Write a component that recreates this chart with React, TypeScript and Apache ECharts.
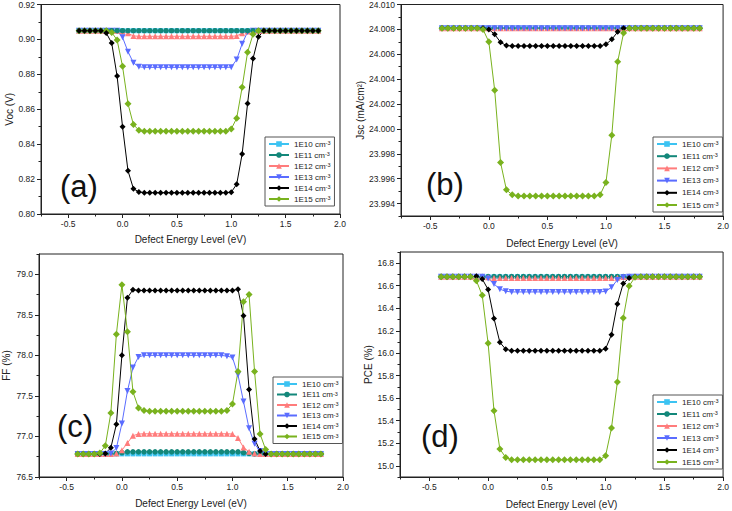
import React, { useEffect, useRef } from "react";
import * as echarts from "echarts";

// Defect energy level (eV)
const X = [-0.4, -0.35, -0.3, -0.25, -0.2, -0.15, -0.1, -0.05, 0.0, 0.05, 0.1, 0.15, 0.2, 0.25, 0.3, 0.35, 0.4, 0.45, 0.5, 0.55, 0.6, 0.65, 0.7, 0.75, 0.8, 0.85, 0.9, 0.95, 1.0, 1.05, 1.1, 1.15, 1.2, 1.25, 1.3, 1.35, 1.4, 1.45, 1.5, 1.55, 1.6, 1.65, 1.7, 1.75, 1.8];

const NAMES = ["1E10 cm-3", "1E11 cm-3", "1E12 cm-3", "1E13 cm-3", "1E14 cm-3", "1E15 cm-3"];

// (a) Voc (V)
const voc10 = [0.905,0.905,0.905,0.905,0.905, 0.905,0.905,0.905,0.905,0.905, 0.905,0.905,0.905,0.905,0.905, 0.905,0.905,0.905,0.905,0.905, 0.905,0.905,0.905,0.905,0.905, 0.905,0.905,0.905,0.905,0.905, 0.905,0.905,0.905,0.905,0.905, 0.905,0.905,0.905,0.905,0.905, 0.905,0.905,0.905,0.905,0.905];
const voc11 = [0.905,0.905,0.905,0.905,0.905, 0.905,0.905,0.905,0.905,0.905, 0.905,0.905,0.905,0.905,0.905, 0.905,0.905,0.905,0.905,0.905, 0.905,0.905,0.905,0.905,0.905, 0.905,0.905,0.905,0.905,0.905, 0.905,0.905,0.905,0.905,0.905, 0.905,0.905,0.905,0.905,0.905, 0.905,0.905,0.905,0.905,0.905];
const voc12 = [0.905,0.905,0.905,0.905,0.905, 0.905,0.905,0.905,0.9045,0.9035, 0.902,0.9018,0.9018,0.9018,0.9018, 0.9018,0.9018,0.9018,0.9018,0.9018, 0.9018,0.9018,0.9018,0.9018,0.9018, 0.9018,0.9018,0.9018,0.9018,0.902, 0.9035,0.9045,0.905,0.905,0.905, 0.905,0.905,0.905,0.905,0.905, 0.905,0.905,0.905,0.905,0.905];
const voc13 = [0.905,0.905,0.905,0.905,0.905, 0.905,0.905,0.905,0.9012,0.893, 0.8866,0.8843,0.884,0.884,0.884, 0.884,0.884,0.884,0.884,0.884, 0.884,0.884,0.884,0.884,0.884, 0.884,0.884,0.884,0.8841,0.8885, 0.8975,0.9043,0.905,0.905,0.905, 0.905,0.905,0.905,0.905,0.905, 0.905,0.905,0.905,0.905,0.905];
const voc14 = [0.905,0.905,0.905,0.905,0.905, 0.9037,0.898,0.879,0.85,0.8248, 0.8145,0.8126,0.8122,0.8122,0.8122, 0.8122,0.8122,0.8122,0.8122,0.8122, 0.8122,0.8122,0.8122,0.8122,0.8122, 0.8122,0.8122,0.8122,0.8125,0.8171, 0.8344,0.8633,0.889,0.9015,0.905, 0.905,0.905,0.905,0.905,0.905, 0.905,0.905,0.905,0.905,0.905];
const voc15 = [0.905,0.905,0.905,0.905,0.905, 0.905,0.904,0.8997,0.8846,0.8632, 0.8512,0.848,0.8474,0.8474,0.8474, 0.8474,0.8474,0.8474,0.8474,0.8474, 0.8474,0.8474,0.8474,0.8474,0.8474, 0.8474,0.8474,0.8474,0.8487,0.8549, 0.8726,0.8927,0.9029,0.905,0.905, 0.905,0.905,0.905,0.905,0.905, 0.905,0.905,0.905,0.905,0.905];

// (b) Jsc (mA/cm2)
const jsc10 = [24.0081,24.0081,24.0081,24.0081,24.0081, 24.0081,24.0081,24.0081,24.0081,24.0081, 24.0081,24.0081,24.0081,24.0081,24.0081, 24.0081,24.0081,24.0081,24.0081,24.0081, 24.0081,24.0081,24.0081,24.0081,24.0081, 24.0081,24.0081,24.0081,24.0081,24.0081, 24.0081,24.0081,24.0081,24.0081,24.0081, 24.0081,24.0081,24.0081,24.0081,24.0081, 24.0081,24.0081,24.0081,24.0081,24.0081];
const jsc11 = [24.0081,24.0081,24.0081,24.0081,24.0081, 24.0081,24.0081,24.0081,24.0081,24.0081, 24.0081,24.0081,24.0081,24.0081,24.0081, 24.0081,24.0081,24.0081,24.0081,24.0081, 24.0081,24.0081,24.0081,24.0081,24.0081, 24.0081,24.0081,24.0081,24.0081,24.0081, 24.0081,24.0081,24.0081,24.0081,24.0081, 24.0081,24.0081,24.0081,24.0081,24.0081, 24.0081,24.0081,24.0081,24.0081,24.0081];
const jsc12 = [24.0081,24.0081,24.0081,24.0081,24.0081, 24.0081,24.0081,24.0081,24.0081,24.0081, 24.0081,24.0081,24.0081,24.0081,24.0081, 24.0081,24.0081,24.0081,24.0081,24.0081, 24.0081,24.0081,24.0081,24.0081,24.0081, 24.0081,24.0081,24.0081,24.0081,24.0081, 24.0081,24.0081,24.0081,24.0081,24.0081, 24.0081,24.0081,24.0081,24.0081,24.0081, 24.0081,24.0081,24.0081,24.0081,24.0081];
const jsc13 = [24.0081,24.0081,24.0081,24.0081,24.0081, 24.0081,24.0081,24.0081,24.0081,24.0081, 24.0081,24.0081,24.0081,24.0081,24.0081, 24.0081,24.0081,24.0081,24.0081,24.0081, 24.0081,24.0081,24.0081,24.0081,24.0081, 24.0081,24.0081,24.0081,24.0081,24.0081, 24.0081,24.0081,24.0081,24.0081,24.0081, 24.0081,24.0081,24.0081,24.0081,24.0081, 24.0081,24.0081,24.0081,24.0081,24.0081];
const jsc14 = [24.0081,24.0081,24.0081,24.0081,24.0081, 24.0081,24.0081,24.0081,24.008,24.0076, 24.00696,24.0067,24.00667,24.00667,24.00667, 24.00667,24.00667,24.00667,24.00667,24.00667, 24.00667,24.00667,24.00667,24.00667,24.00667, 24.00667,24.00667,24.00667,24.0068,24.0072, 24.0078,24.0081,24.0081,24.0081,24.0081, 24.0081,24.0081,24.0081,24.0081,24.0081, 24.0081,24.0081,24.0081,24.0081,24.0081];
const jsc15 = [24.0081,24.0081,24.0081,24.0081,24.0081, 24.0081,24.0081,24.008,24.007,24.0031, 23.9973,23.9951,23.9947,23.9946,23.9946, 23.9946,23.9946,23.9946,23.9946,23.9946, 23.9946,23.9946,23.9946,23.9946,23.9946, 23.9946,23.9946,23.9947,23.9957,23.9995, 24.0054,24.0077,24.0081,24.0081,24.0081, 24.0081,24.0081,24.0081,24.0081,24.0081, 24.0081,24.0081,24.0081,24.0081,24.0081];

// (c) FF (%)
const ff10 = [76.785,76.785,76.785,76.785,76.785, 76.785,76.785,76.785,76.785,76.785, 76.785,76.785,76.785,76.785,76.785, 76.785,76.785,76.785,76.785,76.785, 76.785,76.785,76.785,76.785,76.785, 76.785,76.785,76.785,76.785,76.785, 76.785,76.785,76.785,76.785,76.785, 76.785,76.785,76.785,76.785,76.785, 76.785,76.785,76.785,76.785,76.785];
const ff11 = [76.785,76.785,76.785,76.785,76.785, 76.785,76.785,76.79,76.8,76.81, 76.81,76.81,76.81,76.81,76.81, 76.81,76.81,76.81,76.81,76.81, 76.81,76.81,76.81,76.81,76.81, 76.81,76.81,76.81,76.81,76.81, 76.8,76.79,76.785,76.785,76.785, 76.785,76.785,76.785,76.785,76.785, 76.785,76.785,76.785,76.785,76.785];
const ff12 = [76.785,76.785,76.785,76.785,76.785, 76.785,76.785,76.79,76.83,76.92, 77.01,77.03,77.033,77.033,77.033, 77.033,77.033,77.033,77.033,77.033, 77.033,77.033,77.033,77.033,77.033, 77.033,77.033,77.033,77.03,76.98, 76.865,76.81,76.79,76.785,76.785, 76.785,76.785,76.785,76.785,76.785, 76.785,76.785,76.785,76.785,76.785];
const ff13 = [76.785,76.785,76.785,76.785,76.785, 76.785,76.79,76.857,77.16,77.56, 77.85,77.98,78.0,78.0,78.0, 78.0,78.0,78.0,78.0,78.0, 78.0,78.0,78.0,78.0,78.0, 78.0,78.0,77.99,77.975,77.76, 77.43,77.1,76.91,76.82,76.785, 76.785,76.785,76.785,76.785,76.785, 76.785,76.785,76.785,76.785,76.785];
const ff14 = [76.785,76.785,76.785,76.785,76.785, 76.79,76.86,77.15,78.0,78.71, 78.81,78.8,78.8,78.8,78.8, 78.8,78.8,78.8,78.8,78.8, 78.8,78.8,78.8,78.8,78.8, 78.8,78.8,78.8,78.8,78.815, 78.49,77.58,76.97,76.82,76.785, 76.785,76.785,76.785,76.785,76.785, 76.785,76.785,76.785,76.785,76.785];
const ff15 = [76.785,76.785,76.785,76.785,76.795, 76.885,77.29,78.26,78.87,78.29, 77.55,77.35,77.32,77.31,77.31, 77.31,77.31,77.31,77.31,77.31, 77.31,77.31,77.31,77.31,77.31, 77.31,77.31,77.32,77.4,77.8, 78.66,78.75,77.8,77.03,76.84, 76.785,76.785,76.785,76.785,76.785, 76.785,76.785,76.785,76.785,76.785];

// (d) PCE (%)
const pce10 = [16.68,16.68,16.68,16.68,16.68, 16.68,16.68,16.68,16.68,16.68, 16.68,16.68,16.68,16.68,16.68, 16.68,16.68,16.68,16.68,16.68, 16.68,16.68,16.68,16.68,16.68, 16.68,16.68,16.68,16.68,16.68, 16.68,16.68,16.68,16.68,16.68, 16.68,16.68,16.68,16.68,16.68, 16.68,16.68,16.68,16.68,16.68];
const pce11 = [16.682,16.682,16.682,16.682,16.682, 16.682,16.682,16.682,16.682,16.682, 16.682,16.682,16.682,16.682,16.682, 16.682,16.682,16.682,16.682,16.682, 16.682,16.682,16.682,16.682,16.682, 16.682,16.682,16.682,16.682,16.682, 16.682,16.682,16.682,16.682,16.682, 16.682,16.682,16.682,16.682,16.682, 16.682,16.682,16.682,16.682,16.682];
const pce12 = [16.68,16.68,16.68,16.68,16.68, 16.68,16.68,16.68,16.675,16.668, 16.668,16.668,16.668,16.668,16.668, 16.668,16.668,16.668,16.668,16.668, 16.668,16.668,16.668,16.668,16.668, 16.668,16.668,16.668,16.668,16.668, 16.672,16.678,16.68,16.68,16.68, 16.68,16.68,16.68,16.68,16.68, 16.68,16.68,16.68,16.68,16.68];
const pce13 = [16.68,16.68,16.68,16.68,16.68, 16.68,16.68,16.68,16.664,16.616, 16.57,16.551,16.545,16.545,16.545, 16.545,16.545,16.545,16.545,16.545, 16.545,16.545,16.545,16.545,16.545, 16.545,16.545,16.545,16.55,16.586, 16.652,16.675,16.68,16.68,16.68, 16.68,16.68,16.68,16.68,16.68, 16.68,16.68,16.68,16.68,16.68];
const pce14 = [16.68,16.68,16.68,16.68,16.68, 16.68,16.685,16.66,16.566,16.31, 16.097,16.035,16.023,16.023,16.023, 16.023,16.023,16.023,16.023,16.023, 16.023,16.023,16.023,16.023,16.023, 16.023,16.023,16.023,16.04,16.165, 16.438,16.62,16.67,16.68,16.68, 16.68,16.68,16.68,16.68,16.68, 16.68,16.68,16.68,16.68,16.68];
const pce15 = [16.68,16.68,16.68,16.68,16.68, 16.68,16.645,16.515,16.088,15.49, 15.148,15.074,15.053,15.053,15.053, 15.053,15.053,15.053,15.053,15.053, 15.053,15.053,15.053,15.053,15.053, 15.053,15.053,15.053,15.089,15.335, 15.744,16.313,16.598,16.675,16.68, 16.68,16.68,16.68,16.68,16.68, 16.68,16.68,16.68,16.68,16.68];

// Tick labels
const xTicks = [-0.5, 0.0, 0.5, 1.0, 1.5, 2.0];
const xMinor = [-0.75, -0.25, 0.25, 0.75, 1.25, 1.75];
const vocTicks = [0.80, 0.82, 0.84, 0.86, 0.88, 0.90, 0.92];
const vocMinor = [0.81, 0.83, 0.85, 0.87, 0.89, 0.91];
const jscTicks = [23.994, 23.996, 23.998, 24.000, 24.002, 24.004, 24.006, 24.008, 24.010];
const jscMinor = [23.993, 23.995, 23.997, 23.999, 24.001, 24.003, 24.005, 24.007, 24.009];
const ffTicks = [76.5, 77.0, 77.5, 78.0, 78.5, 79.0];
const ffMinor = [76.75, 77.25, 77.75, 78.25, 78.75, 79.25];
const pceTicks = [15.0, 15.2, 15.4, 15.6, 15.8, 16.0, 16.2, 16.4, 16.6, 16.8];
const pceMinor = [14.9, 15.1, 15.3, 15.5, 15.7, 15.9, 16.1, 16.3, 16.5, 16.7, 16.9];

const COLORS = ["#3cc3f2", "#13877a", "#ff7c7c", "#5a6cff", "#000000", "#79b21e"];
const SYMBOLS = ["rect", "circle", "triangle", "triangle", "diamond", "diamond"];
const SYM_SIZE = [5, 5.5, 6, 6, 6, 7];
const SYM_ROT = [0, 0, 0, 180, 0, 0];

const FONT = "Liberation Sans, Arial, sans-serif";

type Panel = {
  label: string;
  yName: string;
  yMin: number;
  yMax: number;
  yTicks: number[];
  yMinor: number[];
  yDigits: number;
  data: number[][];
  order: number[];
  grid: { left: number; top: number; width: number; height: number };
  yNameGap: number;
  xNameGap: number;
  legend: { left: number; top: number; gap: number };
  labelPos: [number, number];
};

const PANELS: Panel[] = [
  {
    label: "(a)", yName: "Voc (V)", yMin: 0.8, yMax: 0.92, yTicks: vocTicks, yMinor: vocMinor, yDigits: 2,
    data: [voc10, voc11, voc12, voc13, voc14, voc15], order: [0, 2, 3, 1, 5, 4],
    grid: { left: 41, top: 4, width: 299, height: 210 }, yNameGap: 26, xNameGap: 20,
    legend: { left: 265, top: 137, gap: 3 }, labelPos: [60, 189],
  },
  {
    label: "(b)", yName: "Jsc (mA/cm²)", yMin: 23.993, yMax: 24.01, yTicks: jscTicks, yMinor: jscMinor, yDigits: 3,
    data: [jsc10, jsc11, jsc12, jsc13, jsc14, jsc15], order: [0, 1, 2, 3, 4, 5],
    grid: { left: 401, top: 4, width: 323, height: 212 }, yNameGap: 34, xNameGap: 22,
    legend: { left: 653, top: 137, gap: 4.2 }, labelPos: [426, 187],
  },
  {
    label: "(c)", yName: "FF (%)", yMin: 76.5, yMax: 79.25, yTicks: ffTicks, yMinor: ffMinor, yDigits: 1,
    data: [ff10, ff11, ff12, ff13, ff14, ff15], order: [0, 1, 2, 3, 4, 5],
    grid: { left: 38, top: 254, width: 305, height: 223 }, yNameGap: 28, xNameGap: 21,
    legend: { left: 273, top: 377, gap: 2.5 }, labelPos: [57, 429],
  },
  {
    label: "(d)", yName: "PCE (%)", yMin: 14.9, yMax: 16.9, yTicks: pceTicks, yMinor: pceMinor, yDigits: 1,
    data: [pce10, pce11, pce12, pce13, pce14, pce15], order: [0, 1, 2, 3, 4, 5],
    grid: { left: 400, top: 252, width: 328, height: 225 }, yNameGap: 27, xNameGap: 22,
    legend: { left: 653, top: 395, gap: 4 }, labelPos: [421, 439],
  },
];

function buildOption() {
  const grids: any[] = [];
  const xAxes: any[] = [];
  const yAxes: any[] = [];
  const series: any[] = [];
  const legends: any[] = [];
  const graphics: any[] = [];
  const axisColor = "#222";
  const labelStyle = { fontSize: 8.5, color: "#222", fontFamily: FONT };

  PANELS.forEach((p, k) => {
    grids.push({ ...p.grid, show: true, borderColor: axisColor, borderWidth: 1, backgroundColor: "transparent" });
    xAxes[k] = {
      type: "value", gridIndex: k, min: -0.75, max: 2.0, position: "bottom",
      name: "Defect Energy Level (eV)", nameLocation: "middle", nameGap: p.xNameGap,
      nameTextStyle: { fontSize: 10, color: "#222", fontFamily: FONT },
      axisLine: { show: true, onZero: false, lineStyle: { color: axisColor, width: 1 } },
      axisTick: { show: true, customValues: xTicks, length: 4, lineStyle: { color: axisColor } },
      axisLabel: { customValues: xTicks, margin: 5, ...labelStyle, formatter: (v: number) => v.toFixed(1) },
      splitLine: { show: false },
    };
    xAxes[k + 4] = {
      type: "value", gridIndex: k, min: -0.75, max: 2.0, position: "bottom", offset: 0,
      axisLine: { show: false, onZero: false },
      axisTick: { show: true, customValues: xMinor, length: 2.5, lineStyle: { color: axisColor } },
      axisLabel: { show: false },
      splitLine: { show: false },
    };
    yAxes[k] = {
      type: "value", gridIndex: k, min: p.yMin, max: p.yMax, position: "left",
      name: p.yName, nameLocation: "middle", nameGap: p.yNameGap,
      nameTextStyle: { fontSize: 10, color: "#222", fontFamily: FONT },
      axisLine: { show: true, onZero: false, lineStyle: { color: axisColor, width: 1 } },
      axisTick: { show: true, customValues: p.yTicks, length: 4, lineStyle: { color: axisColor } },
      axisLabel: { customValues: p.yTicks, margin: 6, ...labelStyle, formatter: (v: number) => v.toFixed(p.yDigits) },
      splitLine: { show: false },
    };
    yAxes[k + 4] = {
      type: "value", gridIndex: k, min: p.yMin, max: p.yMax, position: "left", offset: 0,
      axisLine: { show: false, onZero: false },
      axisTick: { show: true, customValues: p.yMinor, length: 2.5, lineStyle: { color: axisColor } },
      axisLabel: { show: false },
      splitLine: { show: false },
    };

    p.order.forEach((s) => {
      series.push({
        type: "line",
        name: NAMES[s],
        xAxisIndex: k,
        yAxisIndex: k,
        data: X.map((x, i) => [x, p.data[s][i]]),
        symbol: SYMBOLS[s],
        symbolSize: SYM_SIZE[s],
        symbolRotate: SYM_ROT[s],
        showAllSymbol: true,
        lineStyle: { color: COLORS[s], width: 1 },
        itemStyle: { color: COLORS[s], borderWidth: 0 },
        emphasis: { disabled: true },
      });
    });

    legends.push({
      data: NAMES,
      orient: "vertical",
      left: p.legend.left,
      top: p.legend.top,
      itemWidth: 20,
      itemHeight: 7,
      itemGap: p.legend.gap,
      itemTextGap: 3,
      padding: [3, 4, 3, 3],
      borderColor: "#555",
      borderWidth: 1,
      backgroundColor: "#fff",
      selectedMode: false,
      formatter: (name: string) => name.replace("cm-3", "cm{sup|-3}"),
      textStyle: {
        fontSize: 8, color: "#222", fontFamily: FONT,
        rich: { sup: { fontSize: 5.5, color: "#222", fontFamily: FONT, verticalAlign: "top", lineHeight: 7 } },
      },
    });

    graphics.push({
      type: "text",
      left: p.labelPos[0],
      top: p.labelPos[1] - 18,
      style: { text: p.label, fontSize: 31, fill: "#111", fontFamily: FONT },
      z: 100,
    });
  });

  return {
    animation: false,
    backgroundColor: "#fff",
    grid: grids,
    xAxis: xAxes,
    yAxis: yAxes,
    series,
    legend: legends,
    graphic: graphics,
  };
}

export default function App() {
  const ref = useRef<HTMLDivElement>(null);
  useEffect(() => {
    if (!ref.current) return;
    const chart = echarts.init(ref.current, undefined, { renderer: "svg" });
    chart.setOption(buildOption() as any);
    return () => chart.dispose();
  }, []);
  return <div ref={ref} style={{ position: "absolute", left: 0, top: 0, width: 732, height: 511 }} />;
}
